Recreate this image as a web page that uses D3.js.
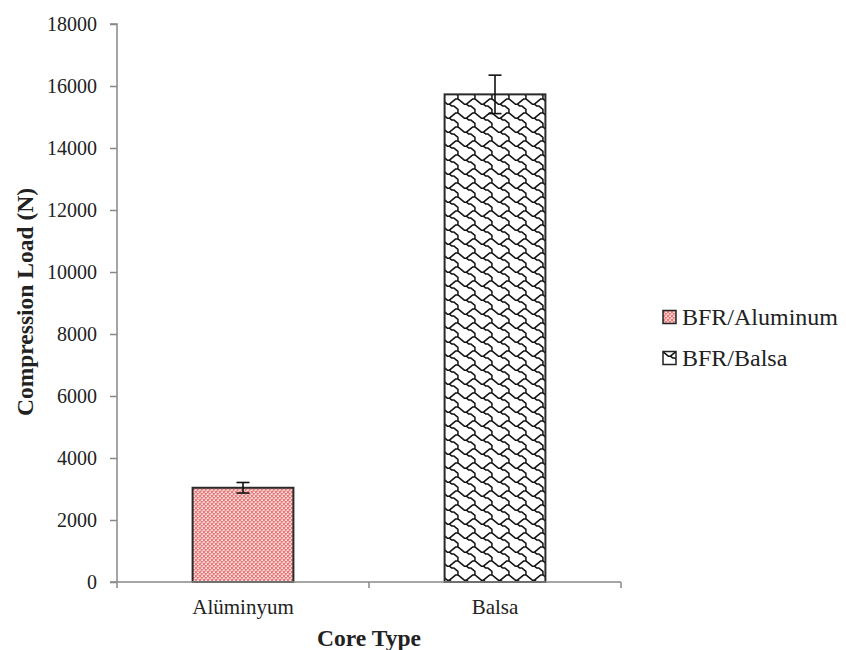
<!DOCTYPE html>
<html><head><meta charset="utf-8">
<script src="https://cdn.jsdelivr.net/npm/d3@7"></script>
<style>body{margin:0;background:#fff}svg{display:block}</style>
</head><body>
<script>
const categories = ["Alüminyum", "Balsa"];
const seriesNames = ["BFR/Aluminum", "BFR/Balsa"];
const values = [3040, 15730];
const errors = [170, 620];
const yTicks = [0, 2000, 4000, 6000, 8000, 10000, 12000, 14000, 16000, 18000];

const FONT = "Liberation Serif";
const W = 846, H = 650;
const svg = d3.select("body").append("svg").attr("width", W).attr("height", H);
svg.append("rect").attr("width", W).attr("height", H).attr("fill", "#fff");

const defs = svg.append("defs");
// pink crosshatch
const p1 = defs.append("pattern").attr("id", "pinkHatch").attr("patternUnits", "userSpaceOnUse")
  .attr("width", 4).attr("height", 4);
p1.append("rect").attr("width", 4).attr("height", 4).attr("fill", "#f9d6d6");
p1.append("path").attr("d", "M0,0 L4,4 M4,0 L0,4").attr("stroke", "#e97a7a").attr("stroke-width", 1.2);
p1.append("rect").attr("x", 1.5).attr("y", 0).attr("width", 1).attr("height", 1).attr("fill", "#fff");

// shingle pattern (8x8 cell motif, scaled)
const sx = 17 / 8, sy = 14 / 8;
const P = (pts) => "M" + pts.map(([c, r]) => `${(c * sx).toFixed(2)},${(r * sy).toFixed(2)}`).join("L");
const p2 = defs.append("pattern").attr("id", "shingle").attr("patternUnits", "userSpaceOnUse")
  .attr("width", 17).attr("height", 14);
p2.append("rect").attr("width", 17).attr("height", 14).attr("fill", "#fff");
p2.append("path").attr("d",
  P([[7.5,-0.5],[7.5,0.5],[6.5,0.5],[5.5,1.5],[4.5,2.5],[3.5,3.5],[2.5,3.5],[1.5,2.5],[0.5,1.5],[-0.5,0.5]]) + " " +
  P([[3.5,3.5],[4.5,4.5],[5.5,4.5],[6.5,5.5],[7.5,6.5],[7.5,7.5],[7.5,8.5]]) + " " +
  P([[7.5,0.5],[8.5,1.5]]))
  .attr("stroke", "#111").attr("stroke-width", 1.5).attr("fill", "none").attr("stroke-linejoin", "round");
const patterns = ["url(#pinkHatch)", "url(#shingle)"];

const x0 = 117, x1 = 621, yTop = 24, yBot = 582;
const x = d3.scaleBand().domain(categories).range([x0, x1]).paddingInner(0.6).paddingOuter(0.3);
const y = d3.scaleLinear().domain([0, 18000]).range([yBot, yTop]);

// bars
svg.selectAll("rect.bar").data(categories).enter().append("rect")
  .attr("x", d => x(d)).attr("width", x.bandwidth())
  .attr("y", (d, i) => y(values[i])).attr("height", (d, i) => yBot - y(values[i]))
  .attr("fill", (d, i) => patterns[i]).attr("stroke", "#2a2a2a").attr("stroke-width", 2);

// error bars
const eb = svg.append("g").attr("stroke", "#111").attr("stroke-width", 1.6);
categories.forEach((c, i) => {
  const cx = x(c) + x.bandwidth() / 2;
  eb.append("line").attr("x1", cx).attr("x2", cx).attr("y1", y(values[i] + errors[i])).attr("y2", y(values[i] - errors[i]));
  eb.append("line").attr("x1", cx - 6.5).attr("x2", cx + 6.5).attr("y1", y(values[i] + errors[i])).attr("y2", y(values[i] + errors[i]));
  eb.append("line").attr("x1", cx - 6.5).attr("x2", cx + 6.5).attr("y1", y(values[i] - errors[i])).attr("y2", y(values[i] - errors[i]));
});

// y axis
const yAxis = svg.append("g").attr("transform", `translate(${x0},0)`)
  .call(d3.axisLeft(y).tickValues(yTicks).tickFormat(d3.format("d")).tickSize(7).tickPadding(13));
yAxis.attr("font-family", FONT).attr("font-size", 20);
yAxis.select(".domain").attr("stroke", "#888").attr("stroke-width", 1.5).attr("d", `M-7,${yTop}H0V${yBot}`);
yAxis.selectAll(".tick line").attr("stroke", "#888").attr("stroke-width", 1.5);
yAxis.selectAll("text").attr("fill", "#222");

// x axis
const xLin = d3.scaleLinear().domain([0, 2]).range([x0, x1]);
const xAxis = svg.append("g").attr("transform", `translate(0,${yBot})`)
  .attr("font-family", FONT).attr("font-size", 21);
xAxis.append("line").attr("x1", x0 - 7).attr("x2", x1).attr("y1", 0).attr("y2", 0).attr("stroke", "#888").attr("stroke-width", 1.5);
[0, 1, 2].forEach(k => {
  xAxis.append("line").attr("x1", xLin(k)).attr("x2", xLin(k)).attr("y1", 0).attr("y2", 6).attr("stroke", "#888").attr("stroke-width", 1.5);
});
categories.forEach(c => {
  xAxis.append("text").attr("x", x(c) + x.bandwidth() / 2).attr("y", 32).attr("text-anchor", "middle")
    .attr("fill", "#222").text(c);
});

// axis titles
svg.append("text").attr("x", (x0 + x1) / 2).attr("y", 646).attr("text-anchor", "middle")
  .attr("font-family", FONT).attr("font-weight", "bold").attr("font-size", 23.5).attr("fill", "#222").text("Core Type");
svg.append("text").attr("transform", `translate(33,302) rotate(-90)`).attr("text-anchor", "middle")
  .attr("font-family", FONT).attr("font-weight", "bold").attr("font-size", 23.5).attr("fill", "#222").text("Compression Load (N)");

// legend
const leg = svg.append("g").attr("font-family", FONT).attr("font-size", 24);
seriesNames.forEach((s, i) => {
  const cy = 317 + i * 41;
  leg.append("rect").attr("x", 663).attr("y", cy - 6.5).attr("width", 13).attr("height", 13)
    .attr("fill", patterns[i]).attr("stroke", "#222").attr("stroke-width", 1.5);
  leg.append("text").attr("x", 682).attr("y", cy + 8).attr("fill", "#222").text(s);
});
</script>
</body></html>
